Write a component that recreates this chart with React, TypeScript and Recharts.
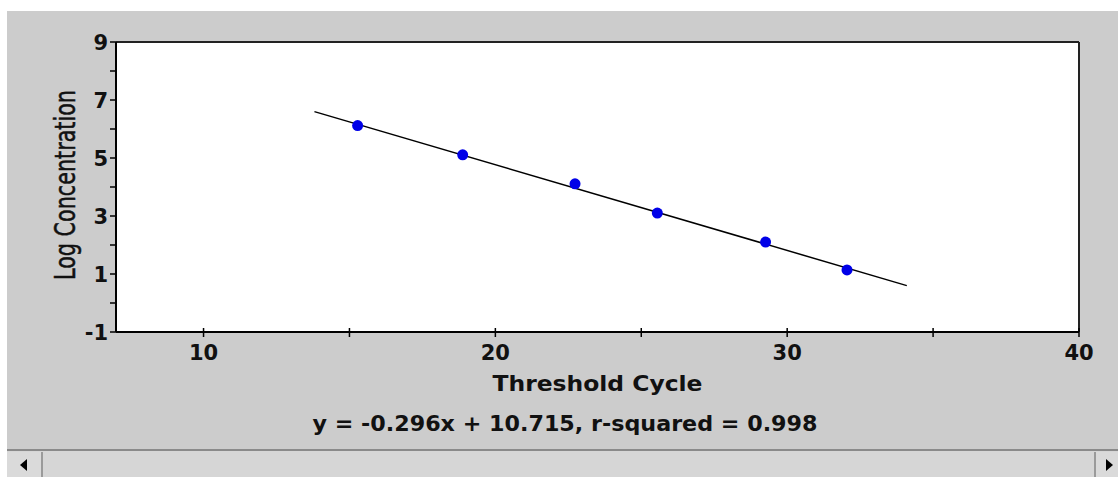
import React from 'react';
import {
  ScatterChart,
  Scatter,
  XAxis,
  YAxis,
  CartesianGrid,
  ReferenceLine,
  Label
} from 'recharts';

// measured standard points
const thresholdCycles = [15.28, 18.88, 22.73, 25.55, 29.26, 32.05];
const logConcentrations = [6.12, 5.11, 4.11, 3.1, 2.1, 1.14];

// ends of the fitted line as drawn
const fitLineX = [13.8, 34.1];
const fitLineY = [6.6, 0.6];

const xTicks = [10, 15, 20, 25, 30, 35, 40];
const xTickLabels = [10, 20, 30, 40];
const yTicks = [-1, 0, 1, 2, 3, 4, 5, 6, 7, 8, 9];
const yTickLabels = [-1, 1, 3, 5, 7, 9];

const xTitle = 'Threshold Cycle';
const yTitle = 'Log Concentration';
const equationText = 'y = -0.296x + 10.715, r-squared = 0.998';

const boldFont = "'DejaVu Sans', sans-serif";
const narrowFont = "'Liberation Sans Narrow', 'DejaVu Sans Condensed', sans-serif";

const points = thresholdCycles.map((x, i) => ({ x, y: logConcentrations[i] }));
const fitLine = fitLineX.map((x, i) => ({ x, y: fitLineY[i] }));

const XTick = (props: any) => {
  const { x, y, payload } = props;
  const show = xTickLabels.includes(payload.value);
  return (
    <g>
      <line x1={x} x2={x} y1={y - 4} y2={y + 5} stroke="#000" strokeWidth={1.5} />
      {show && (
        <text x={x} y={y + 28} textAnchor="middle" fontFamily={boldFont} fontWeight="bold" fontSize={21} fill="#111">
          {payload.value}
        </text>
      )}
    </g>
  );
};

const YTick = (props: any) => {
  const { x, y, payload } = props;
  const show = yTickLabels.includes(payload.value);
  return (
    <g>
      <line x1={x - 6} x2={x} y1={y} y2={y} stroke="#000" strokeWidth={1.5} />
      {show && (
        <text x={x - 8} y={y + 7.5} textAnchor="end" fontFamily={boldFont} fontWeight="bold" fontSize={21} fill="#111">
          {payload.value}
        </text>
      )}
    </g>
  );
};

const XTitle = (props: any) => {
  const vb = props.viewBox;
  const cx = vb.x + vb.width / 2;
  return (
    <text x={cx} y={vb.y + 59} textAnchor="middle" fontFamily={boldFont} fontWeight="bold" fontSize={21}
      textLength={210} lengthAdjust="spacingAndGlyphs" fill="#111">
      {xTitle}
    </text>
  );
};

const YTitle = (props: any) => {
  const vb = props.viewBox;
  const cy = vb.y + vb.height / 2 - 2;
  const bx = 68;
  return (
    <text x={bx} y={cy} transform={`rotate(-90 ${bx} ${cy})`} textAnchor="middle" fontFamily={narrowFont}
      fontSize={28} textLength={190} lengthAdjust="spacingAndGlyphs" fill="#111" stroke="#111" strokeWidth={0.5}>
      {yTitle}
    </text>
  );
};

const Dot = (props: any) => <circle cx={props.cx} cy={props.cy} r={5.5} fill="#0000e8" />;
const NoDot = () => <g />;

export default function App() {
  return (
    <div style={{ position: 'absolute', left: 0, top: 0, width: 1118, height: 477, background: '#fff', overflow: 'hidden' }}>
      <div style={{ position: 'absolute', left: 7, top: 11, width: 1111, height: 466, background: '#cccccc' }}>
        <ScatterChart width={1111} height={439} margin={{ top: 31, right: 39, left: 0, bottom: 0 }}>
          <CartesianGrid horizontal={false} vertical={false} fill="#ffffff" />
          <XAxis
            type="number"
            dataKey="x"
            domain={[7, 40]}
            ticks={xTicks}
            allowDataOverflow
            height={118}
            tickSize={0}
            tickMargin={0}
            tickLine={false}
            tick={<XTick />}
            axisLine={{ stroke: '#000', strokeWidth: 2 }}
          >
            <Label content={<XTitle />} />
          </XAxis>
          <YAxis
            type="number"
            dataKey="y"
            domain={[-1, 9]}
            ticks={yTicks}
            allowDataOverflow
            width={109}
            tickSize={0}
            tickMargin={0}
            tickLine={false}
            tick={<YTick />}
            axisLine={{ stroke: '#000', strokeWidth: 2 }}
          >
            <Label content={<YTitle />} />
          </YAxis>
          <ReferenceLine y={9} stroke="#222" strokeWidth={2} />
          <ReferenceLine x={40} stroke="#222" strokeWidth={2} />
          <Scatter data={fitLine} line={{ stroke: '#000', strokeWidth: 1.5 }} shape={<NoDot />} isAnimationActive={false} />
          <Scatter data={points} shape={<Dot />} isAnimationActive={false} />
        </ScatterChart>
        <svg style={{ position: 'absolute', left: 0, top: 395 }} width={1111} height={30}>
          <text x={558} y={25} textAnchor="middle" fontFamily={boldFont} fontWeight="bold" fontSize={21}
            textLength={505} lengthAdjust="spacingAndGlyphs" fill="#111">
            {equationText}
          </text>
        </svg>
        {/* scrollbar */}
        <div style={{ position: 'absolute', left: 0, top: 438, width: 1111, height: 2, background: '#8a8a8a' }} />
        <div style={{ position: 'absolute', left: 0, top: 440, width: 1111, height: 26, background: '#d6d6d6' }} />
        <div style={{ position: 'absolute', left: 0, top: 441, width: 36, height: 25, background: '#dadada', borderRight: '2px solid #9a9a9a', boxSizing: 'border-box' }}>
          <svg width={34} height={25}>
            <polygon points="20,7 20,19 13,13" fill="#000" />
          </svg>
        </div>
        <div style={{ position: 'absolute', left: 1087, top: 441, width: 24, height: 25, background: '#dadada', borderLeft: '2px solid #9a9a9a', boxSizing: 'border-box' }}>
          <svg width={22} height={25}>
            <polygon points="10,7 10,19 17,13" fill="#000" />
          </svg>
        </div>
      </div>
    </div>
  );
}
